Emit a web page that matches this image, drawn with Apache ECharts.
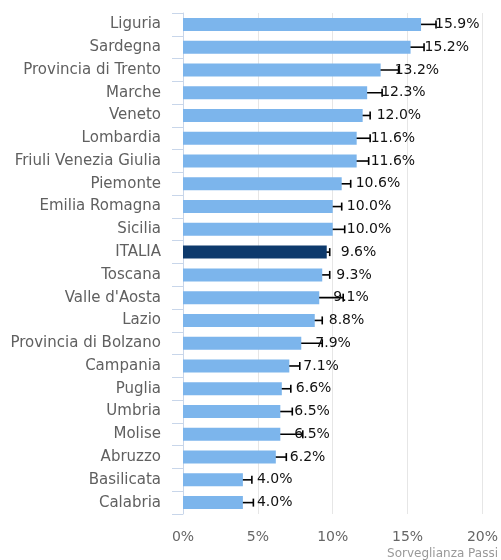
<!DOCTYPE html>
<html>
<head>
<meta charset="utf-8">
<script src="https://cdn.jsdelivr.net/npm/echarts@6/dist/echarts.min.js"></script>
<style>
  html, body { margin: 0; padding: 0; background: #fff; }
  #chart { width: 501px; height: 560px; }
</style>
</head>
<body>
<div id="chart"></div>
<script>
const regions = ['Liguria', 'Sardegna', 'Provincia di Trento', 'Marche', 'Veneto', 'Lombardia',
  'Friuli Venezia Giulia', 'Piemonte', 'Emilia Romagna', 'Sicilia', 'ITALIA', 'Toscana',
  "Valle d'Aosta", 'Lazio', 'Provincia di Bolzano', 'Campania', 'Puglia', 'Umbria',
  'Molise', 'Abruzzo', 'Basilicata', 'Calabria']
const values = [15.9, 15.2, 13.2, 12.3, 12.0, 11.6, 11.6, 10.6, 10.0, 10.0, 9.6, 9.3,
  9.1, 8.8, 7.9, 7.1, 6.6, 6.5, 6.5, 6.2, 4.0, 4.0]
const lower = [14.9, 14.3, 12.0, 11.2, 11.5, 10.7, 10.8, 10.1, 9.5, 9.1, 9.4, 8.8,
  7.5, 8.3, 6.5, 6.5, 6.1, 5.8, 5.1, 5.5, 3.5, 3.4]
const upper = [16.9, 16.1, 14.4, 13.3, 12.5, 12.5, 12.4, 11.2, 10.6, 10.8, 9.8, 9.8,
  10.7, 9.3, 9.3, 7.8, 7.2, 7.3, 8.0, 6.9, 4.6, 4.7]
const xTicks = [0, 5, 10, 15, 20]

const chart = echarts.init(document.getElementById('chart'))

const barData = values.map((v, i) => ({
  value: v,
  itemStyle: { color: regions[i] === 'ITALIA' ? '#0e3a6c' : '#7cb5ec' }
}))
const errData = regions.map((r, i) => [i, lower[i], upper[i]])

chart.setOption({
  animation: false,
  grid: { left: 183, right: 18, top: 13, bottom: 46 },
  xAxis: {
    type: 'value',
    min: xTicks[0],
    max: xTicks[xTicks.length - 1],
    interval: 5,
    axisLine: { show: false },
    axisTick: { show: false },
    splitLine: { lineStyle: { color: '#e6e6e6', width: 1 } },
    axisLabel: {
      formatter: v => v + '%',
      color: '#666',
      fontFamily: 'DejaVu Sans',
      fontSize: 14,
      margin: 16
    }
  },
  yAxis: {
    type: 'category',
    inverse: true,
    data: regions,
    axisLine: { show: true, lineStyle: { color: '#c8d6ea' } },
    axisTick: { show: true, length: 11, lineStyle: { color: '#c8d6ea' } },
    axisLabel: {
      color: '#606060',
      fontFamily: 'DejaVu Sans',
      fontSize: 15,
      margin: 22,
      padding: [7, 0, 0, 0]
    }
  },
  series: [
    {
      type: 'bar',
      data: barData,
      barWidth: 13,
      z: 2,
      label: {
        show: true,
        position: 'right',
        distance: 14,
        formatter: p => p.value.toFixed(1) + '%',
        color: '#111',
        fontFamily: 'DejaVu Sans',
        fontSize: 14,
        padding: [4, 0, 0, 0]
      }
    },
    {
      type: 'custom',
      data: errData,
      encode: { x: [1, 2], y: 0 },
      z: 1,
      renderItem: (params, api) => {
        const cat = api.value(0)
        const p1 = api.coord([api.value(1), cat])
        const p2 = api.coord([api.value(2), cat])
        const h = 4
        const style = { stroke: '#000', lineWidth: 1.6 }
        return {
          type: 'group',
          z2: 50,
          children: [
            { type: 'line', shape: { x1: p1[0], y1: p1[1], x2: p2[0], y2: p2[1] }, style },
            { type: 'line', shape: { x1: p1[0], y1: p1[1] - h, x2: p1[0], y2: p1[1] + h }, style },
            { type: 'line', shape: { x1: p2[0], y1: p2[1] - h, x2: p2[0], y2: p2[1] + h }, style }
          ]
        }
      }
    }
  ],
  graphic: [{
    type: 'text',
    right: 3,
    bottom: 0,
    style: {
      text: 'Sorveglianza Passi',
      fill: '#999',
      font: '12px "DejaVu Sans"'
    }
  }]
})
</script>
</body>
</html>
